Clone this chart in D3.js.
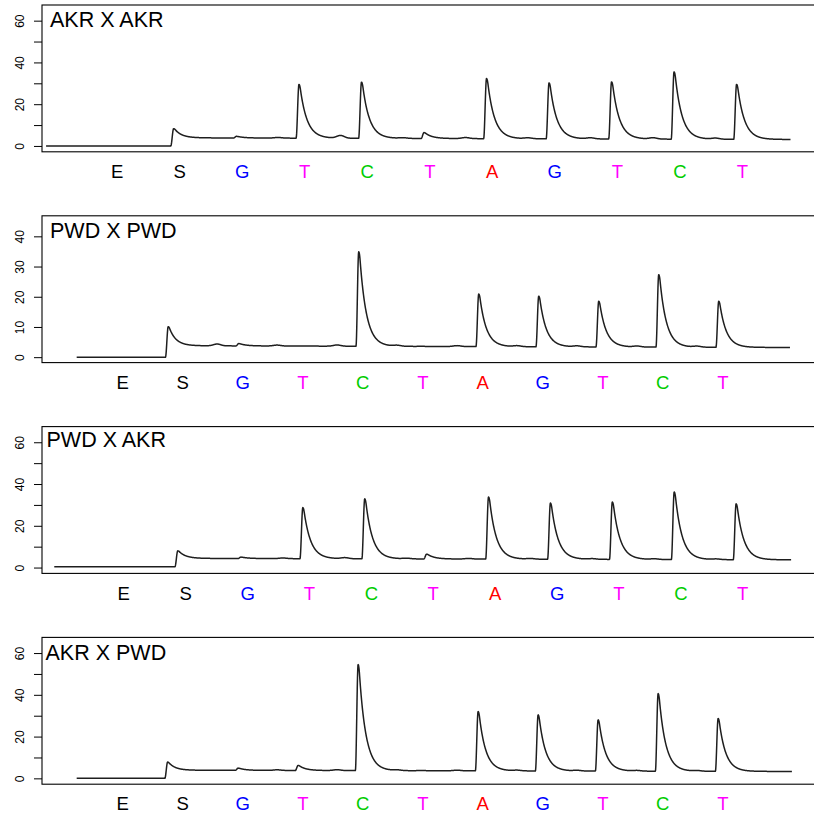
<!DOCTYPE html>
<html>
<head>
<meta charset="utf-8">
<script src="https://cdn.jsdelivr.net/npm/d3@7"></script>
<style>
  html, body { margin: 0; padding: 0; background: #fff; }
  svg { display: block; font-family: "Liberation Sans", Arial, Helvetica, sans-serif; }
</style>
</head>
<body>
<svg id="chart" width="814" height="818"></svg>
<script>
// ---------------- DATA ----------------
const dispensations = ["E", "S", "G", "T", "C", "T", "A", "G", "T", "C", "T"];
const dispensationColors = { E: "#000000", S: "#000000", G: "#0000FF", T: "#FF00FF", C: "#00CD00", A: "#FF0000" };
const panelTitles = ["AKR X AKR", "PWD X PWD", "PWD X AKR", "AKR X PWD"];

// peak signal height (absolute) at each dispensation
const peaksAKRxAKR = [0, 8.3, 4.6, 29.5, 30.6, 6.4, 32.3, 30.2, 30.7, 35.5, 29.5];
const peaksPWDxPWD = [0, 10.1, 4.5, 3.7, 34.9, 3.6, 20.9, 20.2, 18.5, 27.3, 18.5];
const peaksPWDxAKR = [0, 8.0, 5.0, 28.7, 32.9, 6.4, 33.8, 30.9, 31.4, 36.2, 30.5];
const peaksAKRxPWD = [0, 7.8, 4.9, 6.2, 54.5, 3.8, 32.0, 30.4, 28.0, 40.6, 28.7];

// small pre-dispensation bumps (height above baseline)
const ghostAKRxAKR = [0, 0, 0, 0.3, 1.3, 0.3, 0.5, 0.4, 0.5, 0.6, 0.5];
const ghostPWDxPWD = [0, 0, 0.6, 0.3, 0.4, 0.3, 0.3, 0.3, 0.3, 0.3, 0.3];
const ghostPWDxAKR = [0, 0, 0, 0.3, 0.5, 0.3, 0.3, 0.3, 0.3, 0.3, 0.3];
const ghostAKRxPWD = [0, 0, 0, 0.3, 0.4, 0.3, 0.3, 0.3, 0.3, 0.3, 0.3];

// baseline: [before S, just after S, at end of run]
const baseAKRxAKR = [0, 3.9, 3.1];
const basePWDxPWD = [0, 3.8, 3.2];
const basePWDxAKR = [0.4, 4.4, 3.7];
const baseAKRxPWD = [0, 3.9, 3.3];

// time (in dispensation units): x-axis limits and recorded trace span
const xlimAKRxAKR = [-1.195, 11.17];
const xlimPWDxPWD = [-1.338, 11.545];
const xlimPWDxAKR = [-1.313, 11.175];
const xlimAKRxPWD = [-1.338, 11.545];
const spanAKRxAKR = [-1.13, 10.78];
const spanPWDxPWD = [-0.76, 11.13];
const spanPWDxAKR = [-1.115, 10.79];
const spanAKRxPWD = [-0.76, 11.16];

// signal onset relative to dispensation: [nucleotides, substrate S]
const onsetAKRxAKR = [-0.13, -0.135];
const onsetPWDxPWD = [-0.105, -0.28];
const onsetPWDxAKR = [-0.145, -0.165];
const onsetAKRxPWD = [-0.115, -0.29];

// y-axis
const yLimWide = [-2.8, 67.5];
const yLimNarrow = [-1.8, 46.8];
const yTicksWide = [0, 10, 20, 30, 40, 50, 60];
const yLabelsWide = [0, 20, 40, 60];
const yTicksNarrow = [0, 10, 20, 30, 40];
const yLabelsNarrow = [0, 10, 20, 30, 40];

const panels = [
  { title: panelTitles[0], peaks: peaksAKRxAKR, ghost: ghostAKRxAKR, base: baseAKRxAKR, xlim: xlimAKRxAKR, span: spanAKRxAKR, onset: onsetAKRxAKR, ylim: yLimWide, ticks: yTicksWide, labels: yLabelsWide },
  { title: panelTitles[1], peaks: peaksPWDxPWD, ghost: ghostPWDxPWD, base: basePWDxPWD, xlim: xlimPWDxPWD, span: spanPWDxPWD, onset: onsetPWDxPWD, ylim: yLimNarrow, ticks: yTicksNarrow, labels: yLabelsNarrow },
  { title: panelTitles[2], peaks: peaksPWDxAKR, ghost: ghostPWDxAKR, base: basePWDxAKR, xlim: xlimPWDxAKR, span: spanPWDxAKR, onset: onsetPWDxAKR, ylim: yLimWide, ticks: yTicksWide, labels: yLabelsWide },
  { title: panelTitles[3], peaks: peaksAKRxPWD, ghost: ghostAKRxPWD, base: baseAKRxPWD, xlim: xlimAKRxPWD, span: spanAKRxPWD, onset: onsetAKRxPWD, ylim: yLimWide, ticks: yTicksWide, labels: yLabelsWide }
];

// ---------------- LAYOUT ----------------
const svg = d3.select("#chart");
const boxLeft = 42, boxRight = 815;
const panelTop0 = 5, panelStep = 210.8, panelH = 146.8;
const titleOffsets = [[50, 21.8], [50, 22], [46.5, 20.8], [45.5, 22.6]];

const RISE = 0.045, TAU = 0.11, HOLD = 0.025, GHOST_OFF = -0.42, GHOST_W = 0.06;

function smooth(u) { return u <= 0 ? 0 : (u >= 1 ? 1 : u * u * (3 - 2 * u)); }
function pulse(dt) {
  if (dt <= 0) return 0;
  if (dt < RISE) return smooth(dt / RISE);
  const d = dt - RISE;
  // slightly rounded top, then exponential decay
  if (d < HOLD) { const u = d / HOLD; return 1 - (1 - Math.exp(-HOLD / TAU)) * u * u * 0.5; }
  return (1 - (1 - Math.exp(-HOLD / TAU)) * 0.5) * Math.exp(-(d - HOLD) / TAU);
}
function bump(dt) { return Math.exp(-(dt * dt) / (2 * GHOST_W * GHOST_W)); }

function buildTrace(p) {
  const sOnset = 1 + p.onset[1];
  const [t0, t1] = p.span;
  const baseAt = t => {
    if (t < sOnset) return p.base[0];
    const f = (t - sOnset) / (t1 - sOnset);
    const after = p.base[1] + (p.base[2] - p.base[1]) * f;
    return p.base[0] + (after - p.base[0]) * smooth((t - sOnset) / RISE);
  };
  const pts = [];
  const step = 0.004;
  for (let t = t0; t <= t1 + 1e-9; t += step) {
    let y = baseAt(t);
    p.peaks.forEach((h, i) => {
      if (i === 0) return;
      const on = i + (i === 1 ? p.onset[1] : p.onset[0]);
      const refBase = i === 1 ? p.base[1] : baseAt(on + RISE + 0.001);
      const amp = Math.max(0, h - refBase);
      y += amp * pulse(t - on);
      const g = p.ghost[i];
      if (g > 0) y += g * bump(t - (i + GHOST_OFF));
    });
    pts.push([t, y]);
  }
  return pts;
}

panels.forEach((p, k) => {
  const top = panelTop0 + k * panelStep;
  const bottom = top + panelH;
  const x = d3.scaleLinear().domain(p.xlim).range([boxLeft, boxRight]);
  const y = d3.scaleLinear().domain(p.ylim).range([bottom, top]);
  const g = svg.append("g");

  // trace
  const line = d3.line().x(d => x(d[0])).y(d => y(d[1]));
  g.append("path")
    .datum(buildTrace(p))
    .attr("d", line)
    .attr("fill", "none")
    .attr("stroke", "#1e1e1e")
    .attr("stroke-width", 1.5)
    .attr("stroke-linejoin", "round");

  // box
  g.append("rect")
    .attr("x", boxLeft).attr("y", top)
    .attr("width", boxRight - boxLeft).attr("height", bottom - top)
    .attr("fill", "none").attr("stroke", "#000").attr("stroke-width", 1.1);

  // y axis
  const yAxis = d3.axisLeft(y)
    .tickValues(p.ticks)
    .tickSize(8)
    .tickFormat(v => p.labels.includes(v) ? String(v) : "");
  const ya = g.append("g").attr("transform", `translate(${boxLeft},0)`).call(yAxis);
  ya.select(".domain").remove();
  ya.selectAll(".tick line").attr("stroke", "#000").attr("stroke-width", 1);
  ya.selectAll(".tick text")
    .attr("transform", "rotate(-90)")
    .attr("x", 0).attr("y", -18.5).attr("dy", 0)
    .attr("text-anchor", "middle")
    .attr("fill", "#000")
    .style("font-size", "12px")
    .style("font-family", "'Liberation Sans', Arial, Helvetica, sans-serif");

  // x axis (dispensation letters)
  const xAxis = d3.axisBottom(x)
    .tickValues(d3.range(dispensations.length))
    .tickSize(0)
    .tickFormat(i => dispensations[i]);
  const xa = g.append("g").attr("transform", `translate(0,${bottom})`).call(xAxis);
  xa.select(".domain").remove();
  xa.selectAll(".tick text")
    .attr("y", 26.3).attr("dy", 0)
    .attr("fill", i => dispensationColors[dispensations[i]])
    .style("font-size", "18.5px")
    .style("font-family", "'Liberation Sans', Arial, Helvetica, sans-serif");

  // title
  g.append("text")
    .attr("x", titleOffsets[k][0]).attr("y", top + titleOffsets[k][1])
    .attr("fill", "#000")
    .style("font-size", "21.5px")
    .text(p.title);
});
</script>
</body>
</html>
